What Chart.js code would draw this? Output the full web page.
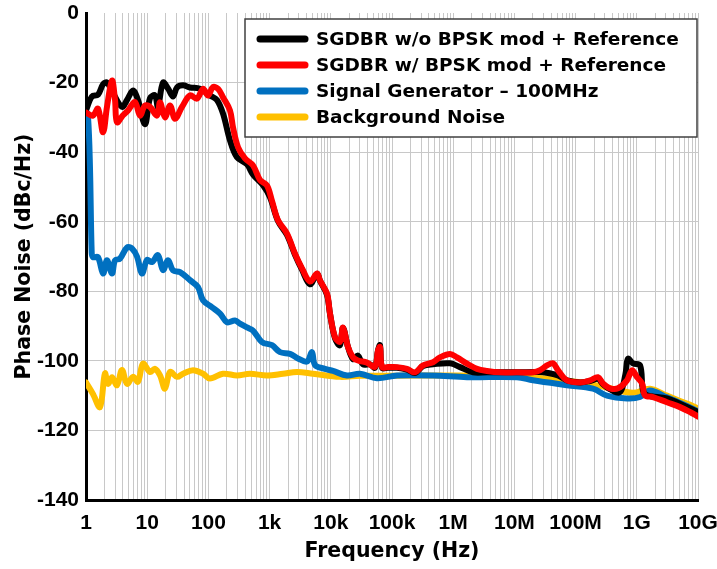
<!DOCTYPE html>
<html>
<head>
<meta charset="utf-8">
<script src="https://cdn.jsdelivr.net/npm/chart.js@4.4.1/dist/chart.umd.min.js"></script>
<style>
  html, body { margin: 0; padding: 0; background: #fff; }
  canvas { display: block; }
</style>
</head>
<body>
<canvas id="pnChart" width="717" height="569"></canvas>
<script>
// offset frequency (Hz) / phase noise (dBc/Hz) per trace
const decadeLabels = ['1', '10', '100', '1k', '10k', '100k', '1M', '10M', '100M', '1G', '10G'];

const seriesNames = [
  'SGDBR w/o BPSK mod + Reference',
  'SGDBR w/ BPSK mod + Reference',
  'Signal Generator \u2013 100MHz',
  'Background Noise'
];
const seriesColors = ['#000000', '#ff0000', '#0070c0', '#ffc000'];

const noModFreq = [1, 1.25, 1.57, 1.9, 2.2, 2.76, 3.87, 4.68, 5.86, 7.07, 9.2, 11.1, 13.4, 15, 18.1, 21.9, 26.4, 30.7, 38.5, 50, 73, 106, 138, 174, 225, 293, 427, 537, 780, 1016, 1371, 1923, 2600, 3383, 4571, 5956, 6668, 8669, 9705, 11720, 14140, 15830, 19090, 23060, 27820, 33580, 43740, 52760, 59050, 63680, 68700, 86090, 120800, 175900, 237600, 321200, 467800, 887000, 1.29e6, 2.11e6, 3.57e6, 5.82e6, 1.1e7, 2.62e7, 3.54e7, 5.15e7, 7.24e7, 1.18e8, 1.72e8, 2.32e8, 2.8e8, 3.65e8, 5.31e8, 6.5e8, 7.18e8, 8.67e8, 1.13e9, 1.26e9, 1.47e9, 3.11e9, 6.61e9, 1e10];
const noModDb = [-28, -24, -23.5, -20.5, -20, -23, -27, -25, -22.3, -25, -32, -24.5, -23.7, -27, -20, -21.7, -24, -21.4, -20.8, -21.4, -21.8, -23.7, -25, -29, -36.6, -41.5, -43.5, -46.5, -49.5, -53, -59.8, -63.8, -69.5, -73.8, -78, -75, -77, -81, -86.5, -93.5, -95.5, -90.5, -96, -99.5, -98.5, -101, -101, -102, -97, -95.5, -102, -102, -102, -102.5, -103.5, -101.5, -101, -100.7, -101.8, -103.3, -103.3, -103.3, -103.3, -103.2, -103.5, -104.2, -105.6, -106.2, -105.8, -105.2, -106.7, -108.2, -109, -104, -99.4, -100.7, -101.3, -108.5, -109.9, -110.8, -113.3, -114.7];

const bpskFreq = [1, 1.3, 1.57, 1.9, 2.2, 2.66, 2.98, 3.21, 4.02, 4.86, 6.31, 7.62, 9.2, 11.1, 14.5, 16.2, 19.5, 23.6, 28.5, 37, 50, 65, 81.6, 98.5, 119, 144, 173, 225, 252, 305, 396, 535, 697, 907, 1094, 1371, 1923, 2600, 3383, 4571, 5956, 6668, 8669, 9705, 11720, 14140, 15830, 19090, 23060, 27820, 39060, 52760, 59050, 63680, 68700, 86090, 120800, 175900, 237600, 321200, 467800, 608300, 887000, 1.153e6, 1.68e6, 2.45e6, 3.57e6, 5.82e6, 1.1e7, 2.01e7, 2.62e7, 3.41e7, 4.27e7, 5.15e7, 7.24e7, 1.18e8, 1.72e8, 2.32e8, 2.8e8, 3.65e8, 4.93e8, 6.92e8, 8.35e8, 1.01e9, 1.22e9, 1.36e9, 1.84e9, 3.11e9, 5.08e9, 7.4e9, 1e10];
const bpskDb = [-28.6, -29.5, -27.5, -34.3, -27, -19.4, -25, -31.4, -29.4, -28, -25.6, -29.5, -26.6, -27, -29.5, -25.7, -30, -26.6, -30.4, -27, -23.7, -24.6, -21.8, -23.7, -21.3, -21.8, -24.2, -28, -32.8, -38.6, -41.8, -43.8, -48, -49.6, -54, -59.6, -63.4, -69.2, -73.4, -77.2, -74.9, -76.9, -80.7, -86.4, -93.2, -94.5, -90.4, -96, -99, -99.9, -100.5, -101.7, -97, -96, -101.8, -101.8, -101.8, -102.3, -103.3, -101.3, -100.4, -99, -98, -99, -100.8, -102.3, -102.9, -103.3, -103.3, -103.3, -102.7, -101.3, -100.7, -102.7, -105.6, -106.2, -105.6, -104.7, -106.5, -107.9, -107.9, -105.6, -102.7, -104.7, -106.5, -109.9, -110.4, -111.9, -113.3, -114.7, -116];

const sigGenFreq = [1, 1.08, 1.16, 1.24, 1.3, 1.57, 1.9, 2.2, 2.66, 2.98, 3.59, 4.68, 5.64, 6.81, 8.22, 9.93, 12, 15, 18.1, 21.9, 26.4, 34.4, 50, 67.6, 81.6, 115, 155, 201, 272, 328, 427, 535, 751, 1094, 1479, 2154, 2911, 4083, 4929, 5521, 8041, 10870, 18390, 30000, 56880, 120800, 467800, 1.68e6, 1.1e7, 2.01e7, 7.24e7, 1.92e8, 3.26e8, 6.92e8, 1.13e9, 1.64e9, 3.11e9, 6.61e9, 1e10];
const sigGenDb = [-28, -30, -44, -69, -70.2, -70.2, -74.9, -71.1, -74.9, -71.1, -70.6, -67.4, -67.7, -70, -74.9, -71, -71.6, -69.6, -73.9, -71.1, -74, -74.5, -76.8, -78.8, -82.6, -84.6, -86.4, -88.9, -88.4, -89.3, -90.4, -91.3, -94.6, -95.5, -97.5, -98, -99.3, -100.2, -97.5, -101.2, -102.3, -102.9, -104.2, -103.7, -105, -104.2, -104.2, -104.7, -104.7, -105.6, -107, -108, -110, -110.8, -110.4, -108.5, -110.5, -113, -114.5];

const floorFreq = [1, 1.3, 1.69, 2.04, 2.29, 2.66, 3.21, 3.87, 4.68, 5.86, 7.07, 8.54, 11.1, 13.4, 16.2, 19.5, 23.6, 30.7, 38.5, 56, 81.6, 106, 173, 293, 478, 907, 1656, 2805, 5117, 14140, 30000, 1e5, 1e6, 1e7, 1e8, 3e8, 8.67e8, 1.64e9, 3.11e9, 6.61e9, 1e10];
const floorDb = [-106.2, -109.5, -113.3, -103.6, -106.6, -104.7, -107, -102.6, -106.6, -104.6, -106, -100.8, -103.2, -102.3, -104.2, -108, -103.2, -104.6, -103.7, -102.7, -103.7, -105.1, -103.7, -104.2, -103.7, -104.2, -103.7, -103.2, -103.7, -104.6, -104.3, -104.3, -104.2, -104.4, -106, -107.5, -109.2, -108, -110, -112.3, -113.7];

function toPoints(xs, ys) {
  return xs.map((x, i) => ({ x: x, y: ys[i] }));
}

const traces = [
  toPoints(noModFreq, noModDb),
  toPoints(bpskFreq, bpskDb),
  toPoints(sigGenFreq, sigGenDb),
  toPoints(floorFreq, floorDb)
];
// red drawn on top, background noise underneath everything
const drawOrder = [1, 0, 2, 3];

const boxLegend = {
  id: 'boxLegend',
  afterDraw(chart) {
    const c = chart.ctx;
    const area = chart.chartArea;
    const x0 = area.right - 453, y0 = area.top + 6;
    c.save();
    c.fillStyle = '#fff';
    c.strokeStyle = '#404040';
    c.lineWidth = 1.5;
    c.fillRect(x0, y0, 452, 118);
    c.strokeRect(x0, y0, 452, 118);
    c.font = 'bold 18.5px "DejaVu Sans"';
    c.textBaseline = 'middle';
    chart.data.datasets.forEach((ds, i) => {
      const y = y0 + 20 + i * 26;
      c.strokeStyle = ds.borderColor;
      c.lineWidth = 7;
      c.lineCap = 'round';
      c.beginPath();
      c.moveTo(x0 + 15, y);
      c.lineTo(x0 + 60, y);
      c.stroke();
      c.fillStyle = '#000';
      c.fillText(ds.label, x0 + 71, y + 1);
    });
    c.restore();
  }
};

new Chart(document.getElementById('pnChart'), {
  type: 'line',
  data: {
    datasets: traces.map((pts, i) => ({
      label: seriesNames[i],
      data: pts,
      borderColor: seriesColors[i],
      backgroundColor: seriesColors[i],
      borderWidth: 6,
      borderCapStyle: 'round',
      borderJoinStyle: 'round',
      pointRadius: 0,
      tension: 0.35,
      order: drawOrder[i]
    }))
  },
  options: {
    responsive: false,
    devicePixelRatio: 1,
    animation: false,
    layout: { padding: { top: 13, right: 19, left: 0, bottom: 0 } },
    plugins: {
      legend: { display: false },
      tooltip: { enabled: false }
    },
    scales: {
      x: {
        type: 'logarithmic',
        min: 1,
        max: 1e10,
        afterFit: (scale) => {
          scale.height = 69;
          // keep the end labels from squeezing the plot
          scale.paddingLeft = 0;
          scale.paddingRight = 0;
        },
        afterBuildTicks: (scale) => {
          const ticks = [];
          for (let e = 0; e <= 10; e++) {
            for (let m = 1; m <= 9; m++) {
              if (e === 10 && m > 1) break;
              ticks.push({ value: m * Math.pow(10, e) });
            }
          }
          scale.ticks = ticks;
        },
        grid: { color: '#c8c8c8', lineWidth: 1, drawTicks: false },
        border: { color: '#000', width: 3 },
        ticks: {
          autoSkip: false,
          maxRotation: 0,
          padding: 11,
          color: '#000',
          font: { family: '"Liberation Sans", Arial', size: 21, weight: 'bold' },
          callback: (value) => {
            const e = Math.round(Math.log10(value));
            return Math.abs(value - Math.pow(10, e)) < 1e-6 * value ? decadeLabels[e] : '';
          }
        },
        title: {
          display: true,
          text: 'Frequency (Hz)',
          color: '#000',
          font: { family: '"DejaVu Sans"', size: 20.5, weight: 'bold' },
          padding: { top: 0, bottom: 5 }
        }
      },
      y: {
        min: -140,
        max: 0,
        afterFit: (scale) => {
          scale.width = 86;
          scale.paddingTop = 0;
          scale.paddingBottom = 0;
        },
        grid: {
          color: (ctx) => (ctx.tick && ctx.tick.value === 0 ? 'rgba(0,0,0,0)' : '#c8c8c8'),
          lineWidth: 1,
          drawTicks: false
        },
        border: { color: '#000', width: 3 },
        ticks: {
          stepSize: 20,
          padding: 7,
          color: '#000',
          font: { family: '"Liberation Sans", Arial', size: 21, weight: 'bold' }
        },
        title: {
          display: true,
          text: 'Phase Noise (dBc/Hz)',
          color: '#000',
          font: { family: '"DejaVu Sans"', size: 20.5, weight: 'bold' },
          padding: { top: 12, bottom: 0 }
        }
      }
    }
  },
  plugins: [boxLegend]
});
</script>
</body>
</html>
